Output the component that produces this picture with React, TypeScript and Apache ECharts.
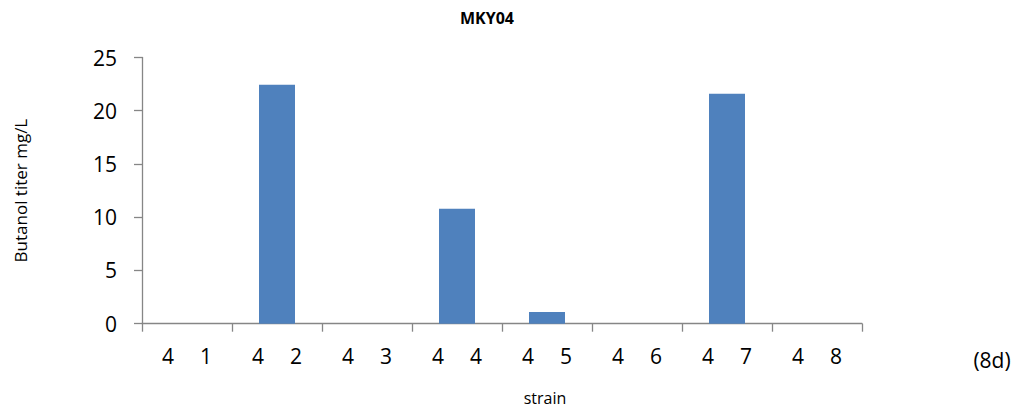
import React, { useEffect, useRef } from "react";
import * as echarts from "echarts";

const categories = ["4 1", "4 2", "4 3", "4 4", "4 5", "4 6", "4 7", "4 8"];
const butanolTiter = [0, 22.45, 0, 10.8, 1.1, 0, 21.6, 0];
const yTicks = { min: 0, max: 25, interval: 5 };
const titleText = "MKY04";
const yAxisName = "Butanol titer mg/L";
const xAxisName = "strain";
const panelLabel = "(8d)";

export default function App() {
  const ref = useRef<HTMLDivElement>(null);
  useEffect(() => {
    if (!ref.current) return;
    const chart = echarts.init(ref.current, null, { renderer: "svg" });
    const font = "'Open Sans', sans-serif";
    const axisColor = "#868686";
    chart.setOption({
      animation: false,
      backgroundColor: "#ffffff",
      title: {
        text: titleText,
        left: 482,
        top: 5,
        textAlign: "center",
        textStyle: { fontFamily: font, fontSize: 16, fontWeight: "bold", color: "#000" },
      },
      grid: { left: 142, right: 166, top: 57.5, bottom: 86.3 },
      xAxis: {
        type: "category",
        data: categories,
        axisLine: { lineStyle: { color: axisColor, width: 1.3 } },
        axisTick: { show: true, length: 8, lineStyle: { color: axisColor, width: 1.3 } },
        axisLabel: {
          margin: 22,
          interval: 0,
          formatter: (v: string) => v.split(" ").map((p) => `{d|${p}}`).join(""),
          rich: {
            d: { width: 38, align: "center", fontFamily: font, fontSize: 21, color: "#000" },
          },
        },
      },
      yAxis: {
        type: "value",
        min: yTicks.min,
        max: yTicks.max,
        interval: yTicks.interval,
        name: yAxisName,
        nameLocation: "middle",
        nameRotate: 90,
        nameGap: 113,
        nameTextStyle: { fontFamily: font, fontSize: 17, color: "#000" },
        axisLine: { show: true, lineStyle: { color: axisColor, width: 1.3 } },
        axisTick: { show: true, length: 8, lineStyle: { color: axisColor, width: 1.3 } },
        axisLabel: { margin: 25, fontFamily: font, fontSize: 21, color: "#000" },
        splitLine: { show: false },
      },
      series: [
        {
          type: "bar",
          data: butanolTiter,
          barWidth: "40%",
          itemStyle: { color: "#4F81BD" },
        },
      ],
      graphic: [
        {
          type: "text",
          x: 545,
          y: 398,
          style: {
            text: xAxisName,
            fontFamily: font,
            fontSize: 16,
            fontWeight: 500,
            fill: "#000",
            align: "center",
            verticalAlign: "middle",
          },
        },
        {
          type: "text",
          x: 992,
          y: 360,
          style: {
            text: panelLabel,
            fontFamily: font,
            fontSize: 21,
            fill: "#000",
            align: "center",
            verticalAlign: "middle",
          },
        },
      ],
    });
    return () => chart.dispose();
  }, []);
  return (
    <div
      ref={ref}
      style={{ position: "fixed", left: 0, top: 0, width: 1028, height: 410 }}
    />
  );
}
